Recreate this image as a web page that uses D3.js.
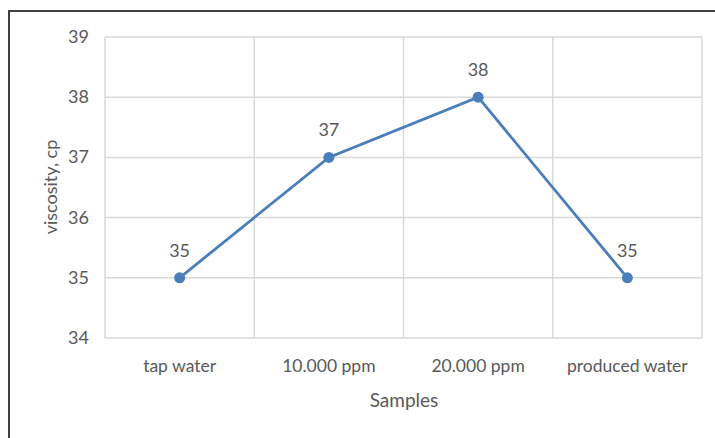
<!DOCTYPE html>
<html>
<head>
<meta charset="utf-8">
<script src="https://cdn.jsdelivr.net/npm/d3@7"></script>
<style>
  body { margin: 0; background: #fff; }
  text { font-family: Lato, "Open Sans", sans-serif; fill: #595959; }
</style>
</head>
<body>
<div id="chart"></div>
<script>
var samples = ['tap water', '10.000 ppm', '20.000 ppm', 'produced water'];
var viscosity = [35, 37, 38, 35];
var yTicks = [34, 35, 36, 37, 38, 39];

var width = 715, height = 438;
var margin = {top: 37, right: 13, bottom: 100, left: 105};

var svg = d3.select('#chart')
    .append('svg')
    .attr('width', width)
    .attr('height', height);

// outer frame
svg.append('rect')
    .attr('x', 9)
    .attr('y', 11)
    .attr('width', width + 20)
    .attr('height', height + 20)
    .attr('fill', 'none')
    .attr('stroke', '#404040')
    .attr('stroke-width', 2);

var x = d3.scaleBand()
    .domain(samples)
    .range([margin.left, width - margin.right]);

var y = d3.scaleLinear()
    .domain([34, 39])
    .range([height - margin.bottom, margin.top]);

// horizontal gridlines
svg.append('g')
    .selectAll('line')
    .data(yTicks)
    .enter()
    .append('line')
    .attr('x1', margin.left)
    .attr('x2', width - margin.right)
    .attr('y1', function(d) { return y(d); })
    .attr('y2', function(d) { return y(d); })
    .attr('stroke', '#d9d9d9')
    .attr('stroke-width', 1.5);

// vertical gridlines at category edges
var edges = samples.map(function(s) { return x(s); }).concat([x.range()[1]]);
svg.append('g')
    .selectAll('line')
    .data(edges)
    .enter()
    .append('line')
    .attr('x1', function(d) { return d; })
    .attr('x2', function(d) { return d; })
    .attr('y1', margin.top)
    .attr('y2', height - margin.bottom)
    .attr('stroke', '#d9d9d9')
    .attr('stroke-width', 1.5);

// y tick labels
svg.append('g')
    .selectAll('text')
    .data(yTicks)
    .enter()
    .append('text')
    .attr('x', 89)
    .attr('y', function(d) { return y(d) + 6; })
    .attr('text-anchor', 'end')
    .style('font-size', '18px')
    .text(function(d) { return d; });

// x tick labels
svg.append('g')
    .selectAll('text')
    .data(samples)
    .enter()
    .append('text')
    .attr('x', function(d) { return x(d) + x.bandwidth() / 2; })
    .attr('y', 372)
    .attr('text-anchor', 'middle')
    .style('font-size', '17.5px')
    .text(function(d) { return d; });

// axis titles
svg.append('text')
    .attr('x', 404)
    .attr('y', 407)
    .attr('text-anchor', 'middle')
    .style('font-size', '19px')
    .text('Samples');

svg.append('text')
    .attr('transform', 'translate(57,187) rotate(-90)')
    .attr('text-anchor', 'middle')
    .style('font-size', '18px')
    .text('viscosity, cp');

// line
var line = d3.line()
    .x(function(d, i) { return x(samples[i]) + x.bandwidth() / 2; })
    .y(function(d) { return y(d); });

svg.append('path')
    .datum(viscosity)
    .attr('d', line)
    .attr('fill', 'none')
    .attr('stroke', '#4a7ebb')
    .attr('stroke-width', 2.8);

svg.append('g')
    .selectAll('circle')
    .data(viscosity)
    .enter()
    .append('circle')
    .attr('cx', function(d, i) { return x(samples[i]) + x.bandwidth() / 2; })
    .attr('cy', function(d) { return y(d); })
    .attr('r', 5.5)
    .attr('fill', '#4a7ebb');

// data labels
svg.append('g')
    .selectAll('text')
    .data(viscosity)
    .enter()
    .append('text')
    .attr('x', function(d, i) { return x(samples[i]) + x.bandwidth() / 2; })
    .attr('y', function(d) { return y(d) - 21; })
    .attr('text-anchor', 'middle')
    .style('font-size', '18px')
    .text(function(d) { return d; });
</script>
</body>
</html>
